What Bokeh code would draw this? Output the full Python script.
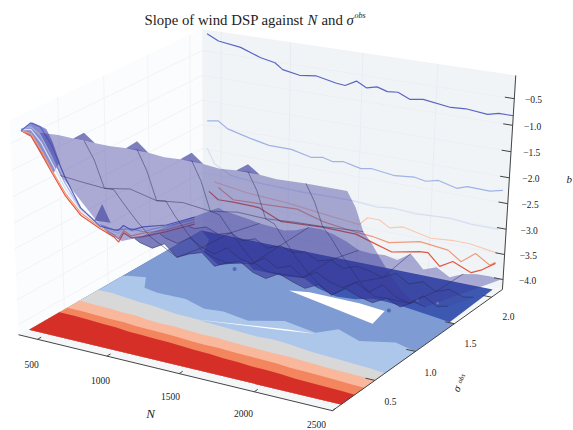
from bokeh.plotting import figure
from bokeh.models import Range1d
from bokeh.embed import file_html
from bokeh.resources import INLINE
import numpy as np

# ---------- data ----------
N_ticks = [500, 1000, 1500, 2000, 2500]
S_ticks = [0.5, 1.0, 1.5, 2.0]
Z_ticks = [-0.5, -1.0, -1.5, -2.0, -2.5, -3.0, -3.5, -4.0]

surf_N = [500, 630, 810, 990, 1170, 1350, 1530, 1710, 1890, 2070, 2250, 2500]
surf_S = [0.1, 0.2, 0.3, 0.4, 0.5, 0.65, 0.8, 0.95]
surf_Z = [
    [-.32, -.30, -.32, -.33, -.30, -.35, -.32, -.37, -.33, -.37, -.35, -.35],
    [-.78, -.80, -.76, -.82, -.78, -.82, -.78, -.82, -.76, -.78, -.76, -.72],
    [-1.30, -1.34, -1.38, -1.30, -1.42, -1.36, -1.42, -1.34, -1.36, -1.32, -1.30, -1.25],
    [-1.62, -1.66, -1.50, -1.68, -1.52, -1.70, -1.58, -1.70, -1.55, -1.64, -1.60, -1.55],
    [-1.95, -2.02, -1.85, -2.00, -1.90, -2.02, -1.92, -2.05, -1.90, -2.00, -1.95, -1.90],
    [-2.45, -2.50, -2.35, -2.50, -2.40, -2.50, -2.42, -2.50, -2.40, -2.50, -2.42, -2.40],
    [-2.90, -2.94, -2.80, -2.92, -2.85, -2.95, -2.88, -2.95, -2.85, -2.95, -2.90, -2.85],
    [-3.20, -3.24, -3.15, -3.25, -3.15, -3.30, -3.20, -3.30, -3.25, -3.30, -3.25, -3.20],
]
fine_N = [500, 540, 630, 720, 810, 900, 990, 1080, 1170, 1260, 1350, 1440, 1530, 1620, 1710, 1800, 1890, 1980, 2070, 2160, 2250, 2340, 2430, 2500]
fine_S = [1.1, 1.4, 1.75, 2.12]
fine_Z = [
    [-3.30, -3.36, -3.42, -3.28, -3.50, -3.38, -3.30, -3.52, -3.40, -3.32, -3.48, -3.55, -3.40, -3.50, -3.58, -3.45, -3.60, -3.42, -3.52, -3.58, -3.44, -3.55, -3.40, -3.45],
    [-3.50, -3.56, -3.62, -3.45, -3.60, -3.68, -3.50, -3.66, -3.72, -3.55, -3.70, -3.60, -3.78, -3.62, -3.75, -3.82, -3.66, -3.80, -3.60, -3.78, -3.85, -3.65, -3.80, -3.75],
    [-3.68, -3.70, -3.62, -3.72, -3.64, -3.75, -3.66, -3.80, -3.70, -3.78, -3.72, -3.85, -3.78, -3.90, -3.80, -3.84, -3.92, -3.78, -3.94, -3.84, -3.98, -3.88, -3.98, -3.94],
    [-3.64, -3.68, -3.72, -3.75, -3.80, -3.82, -3.85, -3.79, -3.68, -3.67, -3.73, -3.82, -3.95, -3.97, -3.94, -3.99, -3.81, -4.08, -3.98, -4.13, -4.01, -3.96, -3.95, -3.97],
]
ridge_N = [810, 1170, 1530, 1890]
ridge_Z = [-0.17, -0.15, -0.18, -0.20]
notch_S = [.65, .74, .83]
notch_Z = [-2.50, -2.26, -2.72]
wire_N = [810, 1170, 1530, 1890, 2250]

# lines on the back wall: z against N, one sigma each
back_lines = [
    ("#5a66c4", [396, 480, 642, 784, 890, 946, 1066, 1180, 1320, 1385, 1462, 1533, 1603, 1674, 1745, 1828, 1914, 2098, 2196, 2337, 2408, 2500],
     [-.15, -.26, -.32, -.46, -.52, -.63, -.69, -.65, -.73, -.75, -.63, -.73, -.68, -.74, -.72, -.82, -.78, -.85, -.83, -.87, -.82, -.82]),
    ("#a0b2e6", [396, 480, 550, 713, 854, 1017, 1158, 1243, 1314, 1385, 1511, 1582, 1745, 1879, 1956, 2040, 2162, 2232, 2380, 2464],
     [-1.91, -1.87, -2.00, -2.11, -2.19, -2.19, -2.28, -2.24, -2.29, -2.25, -2.33, -2.29, -2.35, -2.31, -2.35, -2.29, -2.38, -2.31, -2.32, -2.26]),
    ("#d5dff3", [396, 452, 574, 788, 1100, 1452, 1631, 1745, 1886, 2126, 2267, 2451],
     [-2.47, -2.77, -2.95, -3.00, -3.02, -3.00, -3.04, -3.00, -3.03, -2.99, -3.03, -3.03]),
    ("#f8c9b2", [450, 700, 1000, 1300, 1511, 1568, 1652, 1723, 1815, 1914, 2006, 2147, 2267, 2451],
     [-3.15, -3.25, -3.30, -3.40, -3.46, -3.29, -3.29, -3.41, -3.34, -3.40, -3.46, -3.42, -3.42, -3.50]),
    ("#f09a7c", [480, 593, 1066, 1250, 1490, 1603, 1723, 1935, 2126, 2217, 2310, 2408, 2444],
     [-3.25, -3.45, -3.39, -3.54, -3.63, -3.65, -3.71, -3.57, -3.63, -3.81, -3.59, -3.77, -3.69]),
    ("#e0583f", [410, 480, 593, 784, 946, 1250, 1490, 1603, 1745, 1935, 1992, 2076, 2162, 2288, 2358, 2444],
     [-3.37, -3.51, -3.50, -3.51, -3.71, -3.66, -3.67, -3.77, -3.89, -3.77, -3.76, -3.99, -3.84, -3.99, -3.89, -3.71]),
]

# lines on the left wall: z against sigma, one N each
left_S = [0.11, 0.21, 0.31, 0.42, 0.55, 0.71, 0.92, 1.08, 1.13, 1.19, 1.28, 1.42, 1.70, 2.05]
left_lines = [
    ("#e0583f", [-.36, -.55, -.97, -1.45, -2.00, -2.53, -3.00, -3.33, -3.48, -3.35, -3.54, -3.65, -3.82, -4.00]),
    ("#f09a7c", [-.36, -.50, -.90, -1.40, -1.95, -2.48, -2.97, -3.28, -3.42, -3.30, -3.50, -3.58, -3.78, -3.95]),
    ("#d5dff3", [-.34, -.42, -.75, -1.25, -1.85, -2.42, -2.95, -3.22, -3.30, -3.25, -3.40, -3.50, -3.72, -3.90]),
    ("#a0b2e6", [-.33, -.37, -.62, -1.12, -1.75, -2.40, -2.92, -3.18, -3.22, -3.28, -3.35, -3.55, -3.70, -3.90]),
    ("#5a66c4", [-.36, -.30, -.46, -.90, -1.63, -2.38, -2.95, -3.18, -3.24, -3.20, -3.38, -3.45, -3.68, -3.85]),
]
hat_S = [0.11, 0.23, 0.37, 0.43, 0.50, 0.43, 0.31, 0.21]
hat_Z = [-.36, -.31, -.55, -.84, -1.30, -1.45, -.97, -.55]

# floor contour boundaries: sigma of each band's upper edge against N
floor_N = [370, 480, 600, 700, 800, 900, 1000, 1100, 1200, 1300, 1400, 1500, 1600, 1700, 1800, 1900, 2000, 2100, 2200, 2300, 2400, 2500]
red_top = [.43, .43, .42, .41, .405, .39, .385, .375, .37, .36, .35, .345, .33, .325, .31, .31, .30, .285, .28, .275, .27, .26]
orange_top = [.52, .52, .51, .50, .50, .485, .48, .475, .47, .455, .45, .45, .44, .435, .43, .425, .41, .405, .40, .39, .38, .375]
peach_top = [.66, .65, .645, .63, .63, .61, .60, .60, .59, .58, .58, .57, .56, .555, .55, .55, .54, .53, .52, .515, .51, .50]
gray_top = [.87, .87, .85, .83, .82, .80, .78, .775, .76, .75, .74, .73, .72, .73, .72, .70, .68, .67, .66, .65, .64, .62]
light_N = [370, 394, 510, 600, 713, 921, 1103, 1227, 1430, 1620, 1869, 1958, 2149, 2340, 2500]
light_top = [1.15, 1.17, 1.21, 1.05, 1.02, 1.02, .94, .96, .91, 1.02, .95, 1.07, .97, 1.06, 1.00]
mid_N = [370, 500, 593, 792, 926, 1026, 1248, 1372, 1518, 1691, 1815, 1900, 1984, 2115, 2331, 2500]
mid_top = [2.12, 2.0, 1.78, 1.63, 1.76, 1.67, 1.67, 1.70, 1.60, 1.53, 1.55, 1.61, 1.61, 1.59, 1.54, 1.50]
dark_top_N = [370, 2450, 2500]
dark_top_S = [2.12, 2.12, 0.1]
white_N = [1396, 1517, 1864, 2055, 2089, 1777]
white_S = [1.47, 1.51, 1.505, 1.47, 1.25, 1.35]
streak_N = [1111, 1693, 1875, 1693]
streak_S = [.754, .91, .935, .885]
dark_spot_N = [2072, 917]
dark_spot_S = [1.49, 1.62]
mid_spot_N = [2140, 2265]
mid_spot_S = [1.73, 1.75]

title_parts = ["Slope of wind DSP against", "N", "and", "\u03c3", "obs"]

# ---------- 3D projection ----------
N_LIM, S_LIM, Z_LIM = (360, 2500), (0.0, 2.15), (-4.2, -0.07)
CORNERS = [((0, 0, 0), (20, 337)), ((1, 0, 0), (331, 409)), ((1, 1, 0), (503, 290)), ((0, 1, 0), (200, 226)),
           ((0, 0, 1), (8, 118)), ((0, 1, 1), (203, 30)), ((1, 1, 1), (515, 75))]
A, B = [], []
for (u, v, w), (x, y) in CORNERS:
    A.append([u, v, w, 1, 0, 0, 0, 0, -x * u, -x * v, -x * w]); B.append(x)
    A.append([0, 0, 0, 0, u, v, w, 1, -y * u, -y * v, -y * w]); B.append(y)
P = np.append(np.linalg.lstsq(np.array(A, float), np.array(B, float), rcond=None)[0], 1).reshape(3, 4)


def proj(n, s, z):
    n, s, z = np.broadcast_arrays(np.asarray(n, float), np.asarray(s, float), np.asarray(z, float))
    q = np.stack([(n - N_LIM[0]) / (N_LIM[1] - N_LIM[0]), (s - S_LIM[0]) / (S_LIM[1] - S_LIM[0]),
                  (z - Z_LIM[0]) / (Z_LIM[1] - Z_LIM[0]), np.ones(n.shape)])
    r = P @ q.reshape(4, -1)
    return (r[0] / r[2]).tolist(), (r[1] / r[2]).tolist()


p = figure(width=573, height=430, x_range=Range1d(0, 573), y_range=Range1d(430, 0), toolbar_location=None,
           output_backend="svg", min_border=0, outline_line_color=None)
p.xaxis.visible = False
p.yaxis.visible = False
p.grid.visible = False
p.background_fill_color = "white"
p.border_fill_color = "white"

NL, SL, ZL = N_LIM, S_LIM, Z_LIM
# panes
x, y = proj([NL[0], NL[0], NL[0], NL[0]], [SL[0], SL[1], SL[1], SL[0]], [ZL[0], ZL[0], ZL[1], ZL[1]])
p.patch(x, y, color="#fbfcfd", line_color=None)
x, y = proj([NL[0], NL[1], NL[1], NL[0]], [SL[1]] * 4, [ZL[0], ZL[0], ZL[1], ZL[1]])
p.patch(x, y, color="#f1f4f7", line_color=None)
x, y = proj([NL[0], NL[1], NL[1], NL[0]], [SL[0], SL[0], SL[1], SL[1]], [ZL[0]] * 4)
p.patch(x, y, color="#f5f6f7", line_color=None)

# wall grids
for n in N_ticks:
    x, y = proj([n, n], [SL[1]] * 2, ZL)
    p.line(x, y, color="#e8ecf2", line_width=1)
for s in S_ticks:
    x, y = proj([NL[0]] * 2, [s, s], ZL)
    p.line(x, y, color="#f1f3f7", line_width=1)
for z in Z_ticks:
    x, y = proj(NL, [SL[1]] * 2, [z, z])
    p.line(x, y, color="#ebeef3", line_width=1)
    x, y = proj([NL[0]] * 2, SL, [z, z])
    p.line(x, y, color="#f1f3f7", line_width=1)

# floor bands
FZ = ZL[0]
S0 = 0.1


def band(ns, tops, color):
    x, y = proj(list(ns) + [ns[-1], ns[0]], list(tops) + [S0, S0], FZ)
    p.patch(x, y, color=color, line_color=None)


band(dark_top_N, dark_top_S, "#3c58b0")
band(mid_N, mid_top, "#7f9bd3")
band(light_N, light_top, "#adc7ea")
band(floor_N, gray_top, "#d8d8d8")
band(floor_N, peach_top, "#f9b89c")
band(floor_N, orange_top, "#f3855f")
band(floor_N, red_top, "#d62f27")
x, y = proj(white_N, white_S, FZ)
p.patch(x, y, color="white", line_color=None)
x, y = proj(streak_N, streak_S, FZ)
p.patch(x, y, color="white", line_color=None)
x, y = proj(dark_spot_N, dark_spot_S, FZ)
p.scatter(x, y, size=4, color="#4f6bbe", line_color=None)
x, y = proj(mid_spot_N, mid_spot_S, FZ)
p.scatter(x, y, size=3, color="#6f8bcb", line_color=None)

# wall lines
for c, n, z in back_lines:
    x, y = proj(n, SL[1], z)
    p.line(x, y, color=c, line_width=1.2)
x, y = proj(NL[0], hat_S, hat_Z)
p.patch(x, y, color="#6f6fc0", alpha=0.8, line_color=None)
for c, z in left_lines:
    x, y = proj(NL[0], left_S, z)
    p.line(x, y, color=c, line_width=1.2)

# surface
Z = np.array(surf_Z)
SN = np.array(surf_N, float)
SS = np.array(surf_S)
FN = np.array(fine_N, float)
FS = np.array(fine_S)
FZS = np.array(fine_Z)
SHEET = "#3a3a9c"


def strip(ns, z_a, s_a, z_b, s_b, alpha):
    x, y = proj(list(ns) + list(ns[::-1]), [s_a] * len(ns) + [s_b] * len(ns), list(z_a) + list(z_b[::-1]))
    p.patch(x, y, color=SHEET, alpha=alpha, line_color=None)


# back sheet (flat part) and a denser strip inside it
strip(FN, FZS[0], FS[0], FZS[-1], FS[-1], 0.40)
strip(FN, FZS[1], FS[1], FZS[2], FS[2], 0.20)

# front sheet: rows downwards to the fold
ns = list(SN) + [SN[-1]] * (len(SS) - 1) + [SN[-1]] + list(FN[::-1]) + [SN[0]] * (len(SS) - 1)
ss = [SS[0]] * len(SN) + list(SS[1:]) + [FS[0]] + [FS[0]] * len(FN) + list(SS[1:][::-1])
zz = list(Z[0]) + list(Z[1:, -1]) + [FZS[0][-1]] + list(FZS[0][::-1]) + list(Z[1:, 0][::-1])
x, y = proj(ns, ss, zz)
p.patch(x, y, color=SHEET, alpha=0.42, line_color=None)

# ridges stand on the sheet's upper edge, so their bases follow that edge
for n, z in zip(ridge_N, ridge_Z):
    edge = np.interp([n - 75, n + 75], surf_N, surf_Z[0])
    x, y = proj([n - 75, n, n + 75], surf_S[0], [edge[0], z, edge[1]])
    p.patch(x, y, color=SHEET, alpha=0.65, line_color=None)
x, y = proj(surf_N[0], notch_S, notch_Z)
p.patch(x, y, color=SHEET, alpha=0.6, line_color=None)

WIRE = "#2c2c60"
for n in wire_N:
    ic = surf_N.index(n)
    jc = fine_N.index(n)
    x, y = proj(n, list(SS) + list(FS), list(Z[:, ic]) + list(FZS[:, jc]))
    p.line(x, y, color=WIRE, alpha=0.55, line_width=0.9)
x, y = proj(SN, SS[2], Z[2])
p.line(x, y, color=WIRE, alpha=0.55, line_width=0.9)
for r in range(len(FS) - 1):
    x, y = proj(FN, FS[r], FZS[r])
    p.line(x, y, color=WIRE, alpha=0.6, line_width=0.9)

# axes
AX = "#444444"
x, y = proj(NL, SL[0], ZL[0])
p.line(x, y, color=AX, line_width=1)
x, y = proj(NL[1], SL, ZL[0])
p.line(x, y, color=AX, line_width=1)
x, y = proj(NL[1], SL[1], ZL)
p.line(x, y, color=AX, line_width=1)
for n in N_ticks:
    x, y = proj([n, n], [0.0, 0.04], ZL[0])
    p.line(x, y, color=AX, line_width=1)
for s in S_ticks:
    x, y = proj([2500, 2440], [s, s], ZL[0])
    p.line(x, y, color=AX, line_width=1)
for z in Z_ticks:
    x, y = proj([2500, 2440], [SL[1], SL[1]], [z, z])
    p.line(x, y, color=AX, line_width=1)

FONT = "Liberation Serif"
TXT = "#222222"


def label(x, y, t, size="9.5px", style="normal", angle=0.0, align="center", color=TXT):
    p.text([x], [y], text=[t], text_font={"value": FONT}, text_font_size=size, text_font_style=style,
           text_align=align, text_baseline="middle", text_color=color, angle=angle)


for n, (lx, ly) in zip(N_ticks, [(31, 364), (100, 380), (170, 396), (243, 413), (316, 424)]):
    label(lx, ly, str(n))
for s, (lx, ly) in zip(S_ticks, [(390, 401), (430, 372), (470, 343), (508, 316)]):
    label(lx, ly, str(s))
for z, ly in zip(Z_ticks, [99, 126, 152, 178, 204, 230, 255, 280]):
    label(533 - (ly - 99) * 0.033, ly, "\u2212" + str(abs(z)))

# title
xs = [144, 307, 321, 346, 354]
sizes = ["14.8px", "14.8px", "14.8px", "14.8px", "8px"]
styles = ["normal", "italic", "normal", "italic", "italic"]
ys = [19, 19, 19, 19, 15]
for t, xx, yy, sz, st in zip(title_parts, xs, ys, sizes, styles):
    label(xx, yy, t, size=sz, style=st, align="left", color="#222222")
label(150, 413, "N", size="13px", style="italic")
label(566, 178, "b", size="11px", style="italic", align="left")
label(456, 388, "\u03c3", size="11px", style="italic", angle=1.1)
label(461, 378, "obs", size="7px", style="italic", angle=1.1)

open("out.html", "w").write(file_html(p, INLINE))
